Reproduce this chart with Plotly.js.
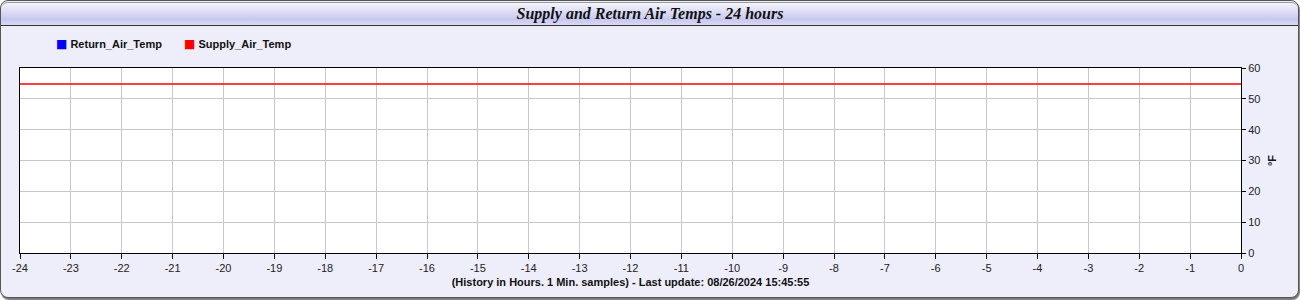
<!DOCTYPE html>
<html><head><meta charset="utf-8">
<script src="https://cdn.plot.ly/plotly-3.0.1.min.js"></script>
<style>
html,body{margin:0;padding:0;background:#fff;}
#frame{position:absolute;left:0;top:0;width:1297px;height:296px;border:1px solid #555;border-radius:8px;background:#eeeefb;box-shadow:1px 2px 1px #777;overflow:hidden;}
#bar{position:absolute;left:0;top:1px;width:1297px;height:22px;border-bottom:1px solid #333;border-top:1px solid #999;border-radius:7px 7px 0 0;background:linear-gradient(#f4f4fc 0%,#dcdcf6 40%,#c8c8ef 75%,#d8d8f4 100%);}
#chart{position:absolute;left:0;top:0;width:1300px;height:300px;}
</style></head>
<body>
<div id="frame"><div id="bar"></div></div>
<div id="chart"></div>
<script>
const hours = [-24,-23,-22,-21,-20,-19,-18,-17,-16,-15,-14,-13,-12,-11,-10,-9,-8,-7,-6,-5,-4,-3,-2,-1,0];
const supplyAirTemp = [54.8,54.8,54.8,54.8,54.8,54.8,54.8,54.8,54.8,54.8,54.8,54.8,54.8,54.8,54.8,54.8,54.8,54.8,54.8,54.8,54.8,54.8,54.8,54.8,54.8];
const returnAirTemp = [null,null,null,null,null,null,null,null,null,null,null,null,null,null,null,null,null,null,null,null,null,null,null,null,null];
const seriesNames = ['Return_Air_Temp','Supply_Air_Temp'];
const seriesColors = ['#0000ff','#ff0000'];
const xTicks = hours;
const yTicks = [0,10,20,30,40,50,60];

const traces = [
  {x:hours,y:returnAirTemp,name:seriesNames[0],mode:'lines',line:{color:seriesColors[0],width:1.5},showlegend:false,hoverinfo:'skip'},
  {x:hours,y:supplyAirTemp,name:seriesNames[1],mode:'lines',line:{color:seriesColors[1],width:1.5},showlegend:false,hoverinfo:'skip'}
];
const baseFont = 'Liberation Sans, Arial, sans-serif';
const tickFont = {family:baseFont,size:11,color:'#222'};
const legendX = [34/1221, 162/1221];
const annotations = seriesNames.map((n,i)=>({
  xref:'paper',yref:'paper',x:legendX[i],y:1.13,xanchor:'left',yanchor:'middle',showarrow:false,
  text:'<span style="font-family:DejaVu Sans;font-size:12px;color:'+seriesColors[i]+'">■</span> <b>'+n+'</b>',
  font:{family:baseFont,size:11,color:'#111'}
}));
const layout = {
  width:1300,height:300,
  margin:{l:20,r:59,t:68,b:47},
  paper_bgcolor:'rgba(0,0,0,0)',plot_bgcolor:'#ffffff',
  title:{text:'<b><i>Supply and Return Air Temps - 24 hours</i></b>',font:{family:'Liberation Serif, Times New Roman, serif',size:16,color:'#111'},x:0.5,xanchor:'center',y:0.955,yanchor:'middle',yref:'container'},
  showlegend:false,
  annotations:annotations,
  xaxis:{range:[-24,0],tickvals:xTicks,ticktext:xTicks.map(String),tickfont:tickFont,ticks:'outside',ticklen:5,tickcolor:'#000',
    showgrid:true,gridcolor:'#c8c8c8',gridwidth:1,showline:true,linecolor:'#000',linewidth:1,mirror:true,zeroline:false,
    title:{text:'<b>(History in Hours. 1 Min. samples) - Last update: 08/26/2024 15:45:55</b>',font:{family:baseFont,size:11,color:'#111'},standoff:5}},
  yaxis:{range:[0,60],side:'right',tickvals:yTicks,tickfont:tickFont,ticks:'outside',ticklen:4,tickcolor:'#000',
    showgrid:true,gridcolor:'#c8c8c8',gridwidth:1,showline:true,linecolor:'#000',linewidth:1,mirror:true,zeroline:false,
    title:{text:'<b>°F</b>',font:{family:baseFont,size:11,color:'#111'},standoff:8}}
};
Plotly.newPlot('chart',traces,layout,{displayModeBar:false,staticPlot:true});
</script>
</body></html>
